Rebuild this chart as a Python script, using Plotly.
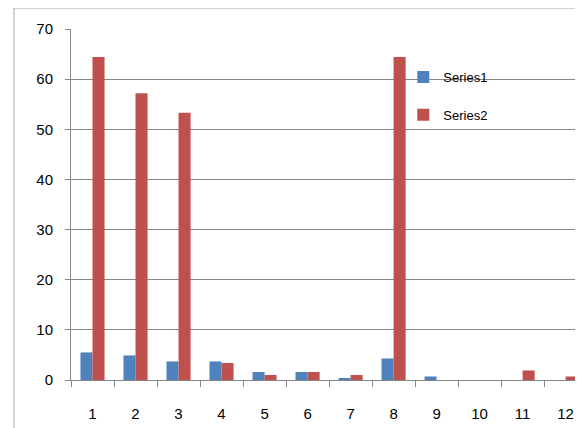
import plotly.graph_objects as go

categories = ["1", "2", "3", "4", "5", "6", "7", "8", "9", "10", "11", "12"]
series1 = [5.5, 4.9, 3.7, 3.7, 1.6, 1.6, 0.4, 4.3, 0.7, 0, 0, 0]
series2 = [64.4, 57.2, 53.3, 3.4, 1.0, 1.6, 1.0, 64.4, 0, 0, 1.9, 0.7]
y_ticks = [0, 10, 20, 30, 40, 50, 60, 70]

FONT = "Liberation Sans"
fig = go.Figure()
fig.add_trace(go.Bar(x=categories, y=series1, name="Series1", marker_color="#4F81BD",
                     legendgroup="a", marker_line_width=0))
fig.add_trace(go.Bar(x=categories, y=series2, name="Series2", marker_color="#C0504D",
                     legendgroup="b", marker_line_width=0))

fig.update_layout(
    width=583, height=428, autosize=False,
    margin=dict(l=63, r=0, t=21, b=56),
    paper_bgcolor="white", plot_bgcolor="white",
    barmode="group", bargap=0.44, bargroupgap=0,
    font=dict(family=FONT, size=15, color="#000000"),
    legend=dict(x=0.639, y=0.906, xanchor="left", yanchor="top",
                traceorder="grouped", tracegroupgap=18,
                font=dict(family=FONT, size=13, color="#000000"),
                bgcolor="rgba(0,0,0,0)"),
    xaxis=dict(type="category", range=[-0.5, 11.59], tickson="boundaries",
               ticks="outside", ticklen=6, tickcolor="#868686",
               showline=True, linecolor="#868686", linewidth=1,
               showgrid=False, ticklabelstandoff=20,
               tickfont=dict(family=FONT, size=15)),
    yaxis=dict(range=[0, 70], tickvals=y_ticks, ticks="outside", ticklen=5,
               tickcolor="#868686", showline=True, linecolor="#868686",
               showgrid=True, gridcolor="#868686", gridwidth=1,
               zeroline=False, ticklabelstandoff=9,
               tickfont=dict(family=FONT, size=15)),
    shapes=[dict(type="rect", xref="paper", yref="paper",
                 x0=-0.1096, x1=1.2, y0=-0.3, y1=1.0598,
                 line=dict(color="#a6a6a6", width=1), fillcolor="rgba(0,0,0,0)",
                 layer="below")],
)

fig.write_html("out.html")
